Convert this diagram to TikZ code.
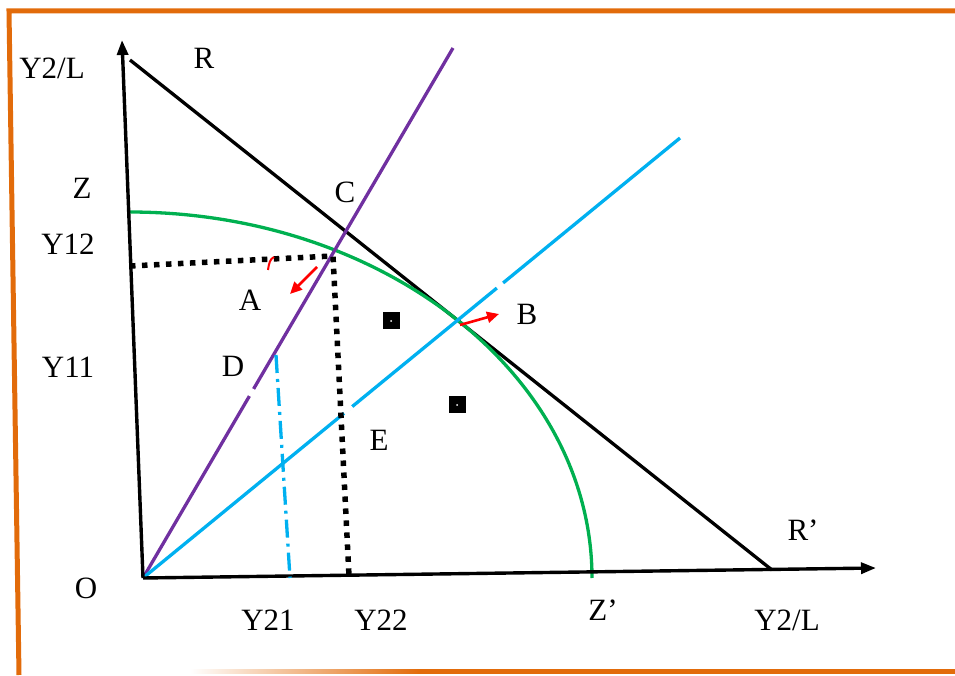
\documentclass[tikz,border=0pt]{standalone}
\usepackage{fontspec}
\setmainfont{Liberation Serif}
\usetikzlibrary{arrows.meta}
\definecolor{framecol}{HTML}{E26B0A}
\definecolor{rpurple}{HTML}{7030A0}
\definecolor{rblue}{HTML}{00B0F0}
\definecolor{rgreen}{HTML}{00B050}
\begin{document}
\begin{tikzpicture}[x=1pt, y=1pt,
    lbl/.style={font=\fontsize{31}{31}\selectfont, inner sep=0pt},
    axis/.style={line width=3.4pt, -{Triangle[length=15pt, width=11pt]}},
    ln/.style={line width=3.3pt},
    dots/.style={line width=5.5pt, dash pattern=on 5.5pt off 6.5pt},
    gapline/.style={white, line width=5pt},
    redarrow/.style={red, line width=2.6pt, -{Triangle[length=12pt, width=11pt]}},
    sqbox/.style={fill=black, minimum size=17pt, inner sep=0pt}]
    \useasboundingbox (0,0) rectangle (955,675);

    % Orange frame
    \draw[framecol, line width=5pt] (19,0) -- (9,664) -- (955,664);
    \shade[left color=white, right color=framecol] (190,1.5) rectangle (420,6);
    \fill[framecol] (420,1.5) rectangle (955,6);

    % Points
    \coordinate (O) at (143,97);
    \coordinate (ytop) at (122,635);
    \coordinate (xend) at (876,107);
    \coordinate (Rtop) at (130,615);
    \coordinate (Rbot) at (772,105);
    \coordinate (ptop) at (453,627);
    \coordinate (btop) at (680,537);
    \coordinate (Ztop) at (129,463);
    \coordinate (Y12pt) at (130,409);
    \coordinate (Cdot) at (333,419);
    \coordinate (Y22pt) at (349,99);
    \coordinate (Dtop) at (276,320);
    \coordinate (Y21pt) at (290,97);

    % Budget line R R'
    \draw[ln] (Rtop) -- (Rbot);

    % Production frontier Z Z'
    \draw[ln, rgreen] (Ztop) arc[start angle=90, end angle=0, x radius=463, y radius=366];

    % Rays from the origin
    \draw[ln, rpurple] (O) -- (ptop);
    \draw[ln, rblue] (O) -- (btop);
    \draw[gapline] (249.5,279) -- (253.5,286);
    \draw[gapline] (344,262) -- (352,268.5);
    \draw[gapline] (497,387) -- (503,392);

    % Axes
    \draw[axis] (O) -- (ytop);
    \draw[axis] (O) -- (xend);

    % Dotted guides
    \draw[dots] (Y12pt) -- (Cdot) -- (Y22pt);
    \draw[rblue, line width=3.3pt, dash pattern=on 18pt off 6pt on 3pt off 6pt] (Dtop) -- (Y21pt);

    % Red marks
    \draw[red, line width=2pt] (268,405) .. controls (269,412) and (270,416) .. (274,418);
    \coordinate (aFrom) at (317,408);
    \coordinate (aTo) at (290,381);
    \coordinate (bFrom) at (460,350);
    \coordinate (bTo) at (499,361);
    \draw[redarrow] (aFrom) -- (aTo);
    \draw[redarrow] (bFrom) -- (bTo);

    % Small squares
    \node[sqbox] (sq1) at (391,354) {};
    \node[sqbox] (sq2) at (457,270) {};
    \fill[white] (sq1.center) circle (1pt);
    \fill[white] (sq2.center) circle (1pt);

    % Labels
    \node[lbl] (yl) at (52,607) {Y2/L};
    \node[lbl] (rl) at (204,617) {R};
    \node[lbl] (zl) at (82,487) {Z};
    \node[lbl] (cl) at (345,483) {C};
    \node[lbl] (y12) at (68,431) {Y12};
    \node[lbl] (al) at (250,375) {A};
    \node[lbl] (bl) at (527,361) {B};
    \node[lbl] (y11) at (68,308) {Y11};
    \node[lbl] (dl) at (233,309) {D};
    \node[lbl] (el) at (379,235) {E};
    \node[lbl] (ol) at (86,87) {O};
    \node[lbl] (y21) at (268,55) {Y21};
    \node[lbl] (y22) at (381,55) {Y22};
    \node[lbl] (zp) at (603,65) {Z’};
    \node[lbl] (xl) at (787,55) {Y2/L};
    \node[lbl] (rp) at (803,145) {R’};
\end{tikzpicture}
\end{document}
